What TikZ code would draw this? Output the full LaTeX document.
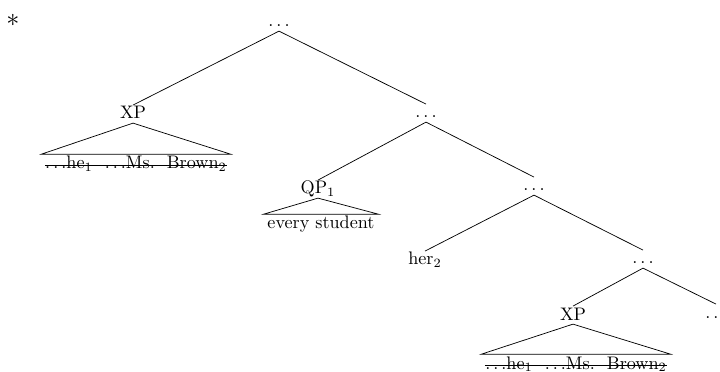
\documentclass[tikz,border=0pt]{standalone}

\begin{document}
\begin{tikzpicture}[x=.551pt,y=-.551pt,
  tree node/.style={anchor=base,inner sep=1pt,text height=1.5ex,text depth=.25ex},
  yield node/.style={anchor=base,inner xsep=2pt,inner ysep=1pt}, ]

  \useasboundingbox (0,0) rectangle (720,372);
  \clip (0,0) rectangle (720,372);

  \node[anchor=base,font=\Large] (star) at (13,27) {$*$};

  \node[tree node] (top) at (279,27) {$\ldots$};
  \node[tree node] (xp1) at (133,119) {XP};
  \node[tree node] (d1) at (426,118) {$\ldots$};
  \node[tree node] (qp) at (318,194) {QP$_1$};
  \node[tree node] (d2) at (534,191) {$\ldots$};
  \node[tree node] (her) at (425,265) {her$_2$};
  \node[tree node] (d3) at (643,264) {$\ldots$};
  \node[tree node] (xp2) at (573,320) {XP};
  \node[tree node] (d4) at (716,318) {$\ldots$};

  \node[yield node] (y1) at (136,169) {$\ldots$he$_1$ \ $\ldots$Ms.\ \ Brown$_2$};
  \node[yield node] (y2) at (321,229) {every student};
  \node[yield node] (y3) at (576,369) {$\ldots$he$_1$ \ $\ldots$Ms.\ \ Brown$_2$};

  \path
  (top.south) edge (xp1.north)
  (top.south) edge (d1.north)
  (d1.south) edge (qp.north)
  (d1.south) edge (d2.north)
  (d2.south) edge (her.north)
  (d2.south) edge (d3.north)
  (d3.south) edge (xp2.north)
  (d3.south) edge (d4.north);

  % triangles over the yields
  \draw (xp1.south) -- (y1.north west) -- (y1.north east) -- cycle;
  \draw (qp.south) -- (y2.north west) -- (y2.north east) -- cycle;
  \draw (xp2.south) -- (y3.north west) -- (y3.north east) -- cycle;

  % deleted material is struck out
  \draw ([shift={(2pt,2.2pt)}]y1.base west) -- ([shift={(-2pt,2.2pt)}]y1.base east);
  \draw ([shift={(2pt,2.2pt)}]y3.base west) -- ([shift={(-2pt,2.2pt)}]y3.base east);
\end{tikzpicture}
\end{document}
